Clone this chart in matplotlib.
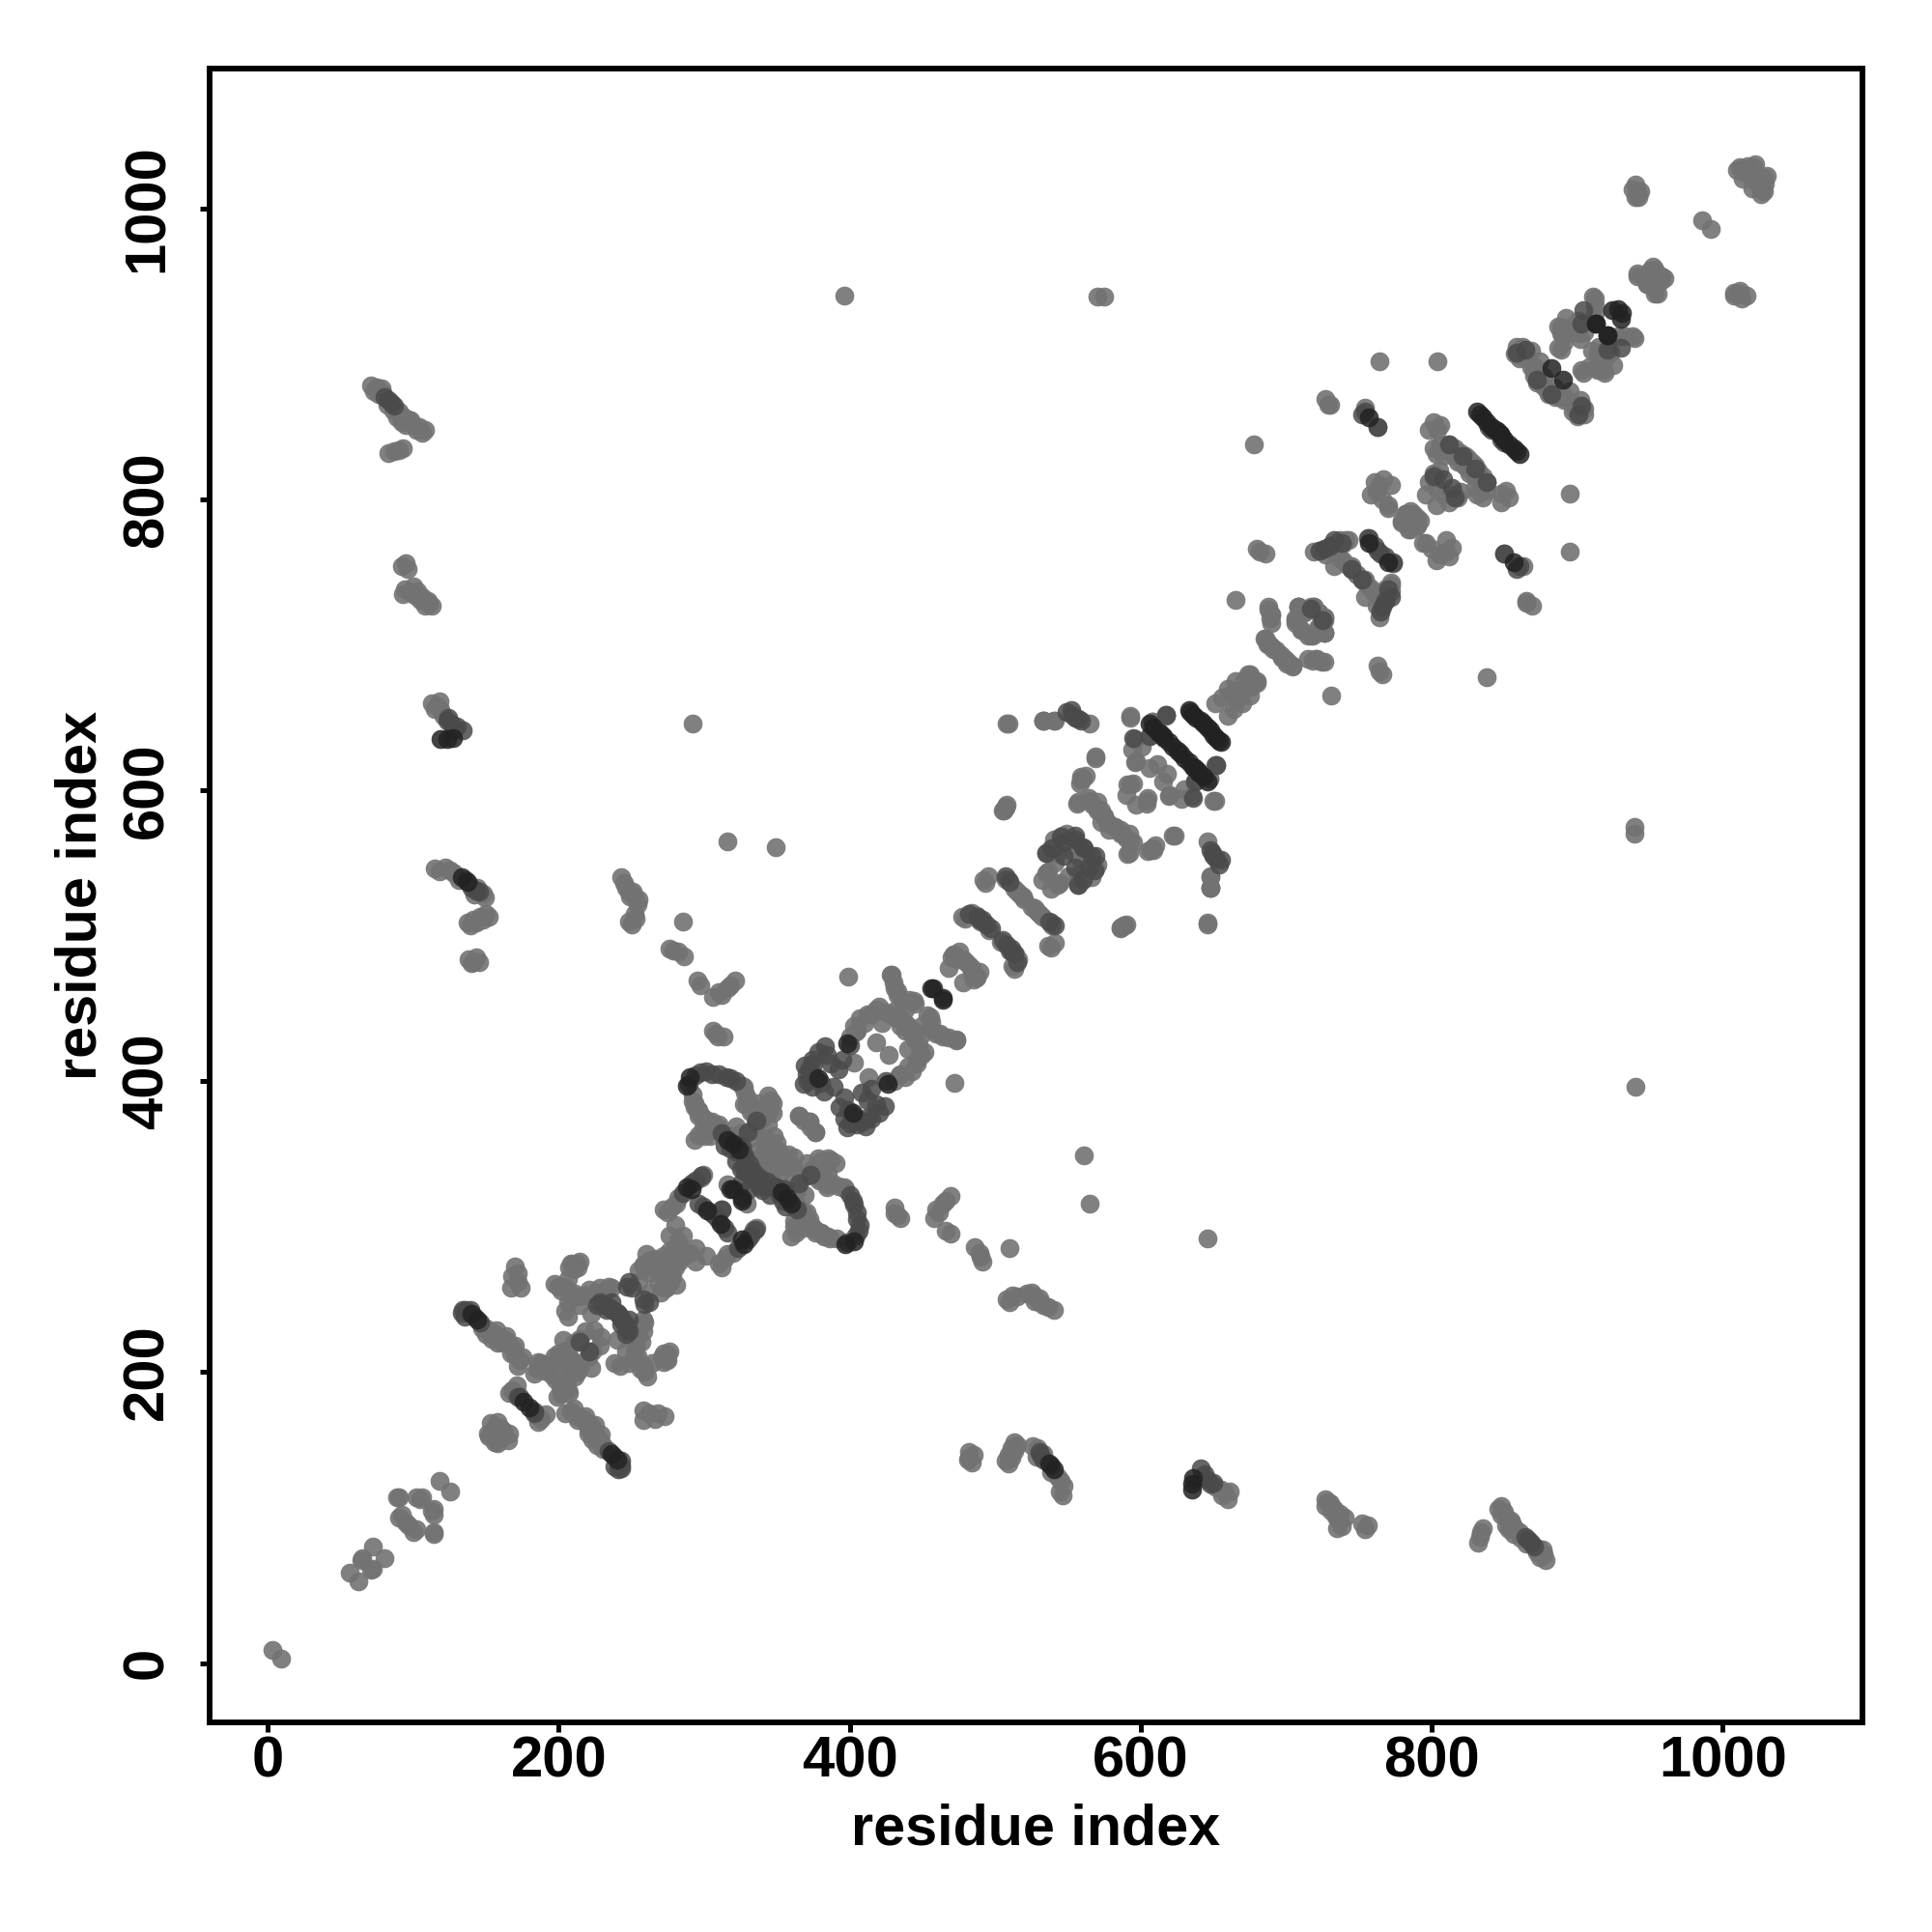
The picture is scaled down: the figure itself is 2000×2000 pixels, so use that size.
import numpy as np
import matplotlib
matplotlib.use('Agg')
import matplotlib.pyplot as plt

plt.rcParams['font.family'] = ['Liberation Sans', 'DejaVu Sans']

# contact pairs (i<j), the map is symmetric so each one is drawn twice
light = [
    (3,9),(56,62),(64,71),(72,80),(65,72),
    (90,114),(90,100),(95,97),(92,102),(102,114),(106,114),(105,113),(89,114),(118,125),
    (71,878),(75,877),(78,876),(90,860),(93,857),(96,855),(100,851),(104,850),(108,848),
    (73,874),(76,872),(79,873),(82,865),(86,861),(89,856),(92,853),(95,851),(98,854),(102,848),(106,846),
    (83,832),(90,834),(93,835),(87,833),
    (92,754),(95,756),(93,735),(100,740),(103,737),(106,733),(110,730),(113,727),
    (96,752),(94,738),(98,736),(101,734),(105,731),(108,727),(111,728),
    (113,660),(117,658),(119,655),(115,656),(118,661),(121,651),
    (115,546),(122,547),(128,543),(148,529),(137,509),(141,511),(146,513),(150,515),
    (118,544),(125,545),(131,538),(142,528),(144,533),(149,526),(139,507),(143,509),(148,511),(152,513),
    (138,484),(141,482),(145,482),(140,481),(143,485),
    (243,540),(246,533),(248,530),(252,527),(255,525),(250,508),(253,512),
    (245,536),(249,527),(251,530),(254,522),(248,510),(252,515),
    (151,158),(155,161),(160,162),(153,165),(156,152),(158,166),
    (150,230),(153,228),(156,226),(160,224),(163,222),(165,220),(168,217),(170,212),(173,208),
    (147,230),(150,226),(154,223),(157,229),(161,220),(164,225),(167,213),(172,204),(175,210),(170,218),(158,220),
    (168,188),(170,186),(168,266),(170,273),(172,262),(167,258),(172,268),(166,186),(171,191),(174,258),
    (183,199),(193,205),(195,198),(186,207),(190,201),(199,208),(203,207),(191,205),(188,206),
    (185,202),(205,209),(197,211),
    (197,261),(200,259),(205,258),(208,275),(212,275),(214,276),(211,254),(218,253),(225,255),
    (232,256),(236,258),(203,259),(209,274),(234,259),(224,229),(208,209),(223,214),
    (207,272),(210,271),(213,272),(202,256),(207,254),(214,252),(221,257),(228,258),(206,264),
    (210,220),(218,228),(200,213),(205,215),(203,222),
    (238,206),(242,204),(206,248),(210,252),(214,246),(222,240),
    (258,274),(260,272),(262,277),(265,275),(268,272),(262,268),(268,275),(258,273),
    (255,270),(266,278),(272,280),(255,262),(260,281),
    (276,278),(276,283),(285,294),(280,286),(292,646),(316,565),(349,561),(285,510),(276,491),(282,489),(286,486),(279,490),
    (295,469),(297,466),(306,435),(313,431),(308,433),(312,459),(306,458),(316,464),(321,469),(309,431),(310,461),(318,466),
    (396,940),(570,939),(575,939),
    (292,386),(296,380),(298,376),(302,370),(308,367),(326,397),(327,384),(334,378),(346,387),(339,379),
    (293,382),(300,374),(305,372),(310,370),(299,368),(304,362),(296,363),(293,360),
    (328,392),(330,388),(333,382),(337,385),(342,382),(344,390),(335,371),(340,374),(344,370),(348,362),
    (365,376),(372,372),(376,365),(368,373),(342,360),(350,358),(341,351),(347,342),(351,352),(336,331),(361,341),
    (345,352),(344,343),(355,342),(340,336),(346,333),(352,336),
    (378,347),(385,347),(374,336),(384,329),(396,327),(275,310),(278,314),(282,320),(299,336),
    (380,345),(376,341),(379,332),(370,335),(360,330),(364,325),(369,322),(281,316),(272,312),
    (334,298),(329,316),(368,309),(363,316),(372,302),(376,296),(385,293),(380,295),(362,300),(366,304),(391,292),
    (301,280),(294,276),(290,282),
    (399,472),(428,473),(431,464),(436,455),(445,453),(434,444),(438,435),(429,445),(418,449),
    (407,443),(404,434),(405,435),(412,446),(420,451),(403,413),(418,427),(444,455),(433,462),(429,473),
    (430,468),(433,459),(438,449),(441,456),(432,449),(436,442),(440,438),(443,433),(425,447),(422,440),
    (415,446),(410,440),(400,431),(403,438),
    (471,487),(472,487),(475,489),(470,485),(477,513),(479,512),(487,514),(474,484),(468,478),(480,482),(484,478),
    (507,588),(505,586),(509,646),(533,648),(540,648),(565,646),
    (569,623),(560,608),(557,592),(564,595),(571,587),(578,577),(573,586),(565,593),(556,591),(559,607),
    (562,610),(558,605),(567,590),(575,582),(570,592),(578,573),(582,575),(586,570),
    (540,566),(549,570),(540,557),(546,569),(553,558),(542,557),(535,543),(536,544),(535,557),
    (538,560),(556,562),(541,550),(532,538),
    (617,651),(593,650),(596,635),(596,619),(606,615),(591,604),(595,605),(597,620),(593,604),
    (593,651),(608,647),(617,652),(606,637),(647,608),(590,597),(611,618),(594,628),(601,630),
    (492,538),(493,536),(507,539),(513,532),(517,528),(520,525),(589,507),(586,506),(646,508),
    (495,541),(509,538),(515,530),(519,527),(484,516),(490,510),(496,504),
    (533,648),(648,533),(648,541),(609,559),(622,569),(590,508),
    (665,731),(688,726),(689,718),(687,700),(699,690),(701,688),(708,726),(717,726),(726,719),
    (726,708),(715,706),(706,717),(724,688),(715,690),(674,680),(680,675),(662,666),(668,669),(651,660),
    (690,721),(685,704),(691,697),(696,693),(704,686),(712,722),(722,722),(722,712),(718,706),(710,710),(720,690),
    (656,664),(660,670),(665,675),(671,676),(676,672),
    (678,838),(682,764),(686,763),(680,766),(717,725),(719,726),(708,726),
    (727,869),(730,865),(719,764),(724,765),(723,765),(730,768),(735,770),(741,772),(745,754),(745,752),(739,758),(743,772),
    (727,762),(732,766),(737,772),(739,769),(742,755),(749,748),(736,760),(733,754),
    (764,895),(804,895),(865,729),(754,863),
    (767,814),(758,803),(770,796),(764,810),(762,805),(770,794),(766,800),(761,812),(772,810),
    (779,784),(785,792),(779,785),(782,790),(787,790),(790,782),
    (796,803),(803,816),(801,818),(803,808),(801,835),(806,838),(812,838),(816,835),(820,832),(823,830),(825,828),
    (798,812),(805,820),(808,830),(803,831),(811,834),(815,830),(818,826),(822,824),(806,851),(801,853),(804,848),(798,848),
    (862,905),(857,900),(868,902),(872,882),(880,872),(891,868),(903,864),(901,858),(871,891),
    (860,897),(865,898),(874,895),(870,885),(876,878),(884,877),(888,870),(896,866),(899,861),(905,858),
    (887,919),(887,904),(890,912),(901,923),(901,914),(910,902),(899,921),(889,918),(889,903),(911,939),(912,922),(912,938),(912,928),
    (892,925),(895,917),(915,905),(918,895),(908,891),(914,889),(912,933),
    (940,1016),(943,1012),(940,1008),(942,1008),(941,1011),(938,1013),(986,992),
    (941,953),(947,951),(953,958),(941,955),(950,957),(946,952),(952,960),(948,948),
    (1012,1028),(1017,1029),(1022,1030),(1015,1025),(1013,1027),(1018,1025),(1021,1028),(1014,1020),(1010,1026),(1019,1022),
]
mid = [
    (80,870),(83,868),(85,866),(87,864),
    (123,648),(126,646),(130,644),(134,641),(128,642),(124,650),
    (136,538),(140,533),(145,530),(143,531),
    (134,243),(136,243),(138,241),(146,234),(142,238),(172,183),(173,183),(133,241),(135,238),(139,243),
    (214,221),(234,245),(237,243),(236,248),(230,247),(228,248),(232,246),(250,258),(247,259),(248,262),
    (226,246),(240,241),(242,238),(243,233),
    (289,398),(294,404),(297,406),(301,407),(305,405),(310,405),(315,403),(318,402),(322,400),
    (312,364),(328,348),(331,343),(334,338),(325,340),(322,345),(314,356),
    (330,365),(336,373),(350,327),(354,318),(296,316),(299,314),(305,309),(285,323),(291,330),(294,332),(298,335),
    (358,318),(352,322),(355,326),(345,328),(338,328),(330,337),(325,330),(312,312),(308,307),
    (369,411),(370,405),(374,396),(380,399),(372,409),(374,415),(378,420),(383,424),
    (373,405),(375,412),(384,418),(389,396),(400,425),(376,402),(368,398),(371,400),(382,393),(387,412),(392,408),(395,415),
    (482,515),(488,513),(491,511),(494,508),(497,505),(489,511),(507,541),(510,537),
    (552,655),(555,650),(549,654),(553,652),(559,648),(557,649),
    (595,636),(637,606),(652,617),(555,566),(547,555),(557,535),(569,555),(561,560),(564,547),(568,545),(560,539),
    (754,860),(763,850),(757,773),(763,765),(768,761),(773,756),(839,850),(752,858),
    (850,763),(752,745),(717,725),(768,730),(765,723),(766,726),(770,738),(772,733),
    (808,814),(801,816),(812,838),(830,821),(848,841),
    (864,903),(858,901),(882,872),(904,930),(903,921),
]
dark = [
    (133,540),(137,537),(119,635),(123,635),(127,636),
    (140,240),(144,236),(176,180),
    (288,397),(290,403),(316,360),(320,357),(324,353),
    (288,327),(302,311),(318,326),(320,326),(326,291),
    (378,402),(398,426),(456,464),(457,464),
    (606,646),(609,643),(613,639),(616,636),(619,633),(622,630),(625,627),(615,637),(612,640),
    (634,654),(636,652),(638,650),(641,648),(643,646),(633,655),
    (757,856),(757,770),
    (831,860),(833,858),(835,856),(838,853),(841,850),(844,848),(845,847),
    (882,890),(921,913),(924,930),(913,921),(928,931),
]

tick_vals = [0, 200, 400, 600, 800, 1000]

fig = plt.figure(figsize=(10, 10), dpi=200)
ax = fig.add_axes([0.1085, 0.1085, 0.8555, 0.856])

for pairs, col, a in [(light, '#727272', 0.9), (mid, '#4a4a4a', 0.85), (dark, '#222222', 0.85)]:
    p = np.array(pairs)
    ax.scatter(np.r_[p[:, 0], p[:, 1]], np.r_[p[:, 1], p[:, 0]], s=50, c=col, alpha=a, linewidths=0)

ax.set_xlim(-40, 1096)
ax.set_ylim(-40.7, 1096)
ax.set_xticks(tick_vals)
ax.set_yticks(tick_vals)
ax.tick_params(width=1.8, length=3.5, labelsize=21.5)
ax.tick_params(axis='x', pad=1.5)
ax.tick_params(axis='y', pad=9.7)
for lab in ax.get_xticklabels():
    lab.set_fontweight('bold')
for lab in ax.get_yticklabels():
    lab.set_fontweight('bold')
    lab.set_rotation(90)
    lab.set_va('center')
for s in ax.spines.values():
    s.set_linewidth(2.1)
ax.set_xlabel('residue index', fontsize=21.4, fontweight='bold', labelpad=5.3)
ax.set_ylabel('residue index', fontsize=21.4, fontweight='bold', labelpad=5)

fig.savefig('out.png', dpi=200)
